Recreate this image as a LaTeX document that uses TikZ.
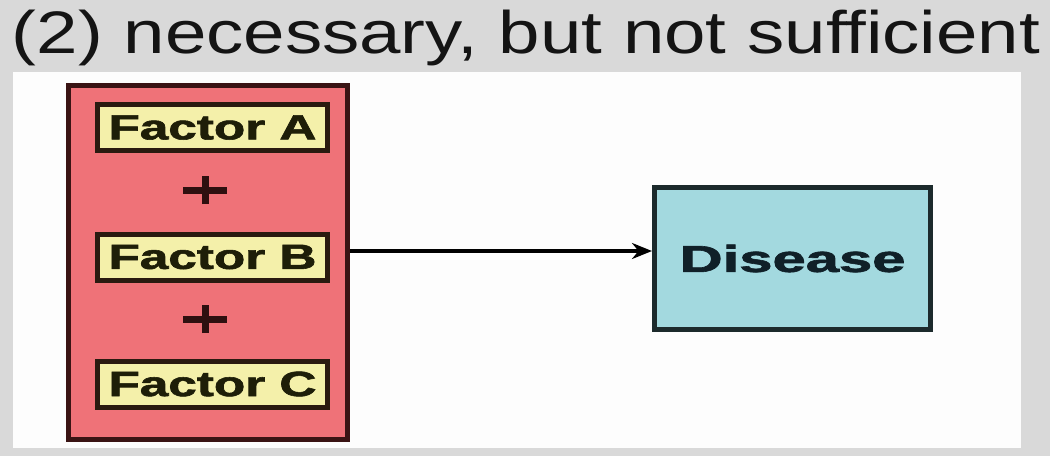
\documentclass[tikz,border=0pt]{standalone}
\usepackage{fontspec}
\usepackage{graphicx}
\setmainfont{Liberation Sans}
\newfontfamily\blackfont{Liberation Sans}[BoldFeatures={FakeBold=1.6}]
\usetikzlibrary{arrows.meta}
\definecolor{bggray}{HTML}{D9D9D9}
\definecolor{panelwhite}{HTML}{FDFDFD}
\definecolor{redfill}{HTML}{EF7278}
\definecolor{redborder}{HTML}{3A1414}
\definecolor{yellowfill}{HTML}{F4F0AA}
\definecolor{yellowborder}{HTML}{2A1A10}
\definecolor{cyanfill}{HTML}{A3D9DF}
\definecolor{cyanborder}{HTML}{1C2A2C}
\definecolor{factortext}{HTML}{1E1E08}
\definecolor{distext}{HTML}{102028}
\definecolor{titletext}{HTML}{141414}
\tikzset{
  groupbox/.style={draw=redborder, fill=redfill, line width=5pt, minimum width=279pt, minimum height=354pt, inner sep=0pt},
  factorbox/.style={draw=yellowborder, fill=yellowfill, line width=5pt, minimum width=230pt, minimum height=46pt, inner sep=0pt, text=factortext, font=\fontsize{35}{40}\blackfont\bfseries},
  diseasebox/.style={draw=cyanborder, fill=cyanfill, line width=5pt, minimum width=276pt, minimum height=142pt, inner sep=0pt, text=distext, font=\fontsize{37.5}{42}\blackfont\bfseries},
  plusline/.style={draw=redborder!80!black, line width=7pt},
  link/.style={draw=black, line width=4.5pt, -{Stealth[length=20pt,width=16pt]}},
  titlestyle/.style={text=titletext, font=\fontsize{60}{70}\selectfont, inner sep=0pt, anchor=base}
}
\begin{document}
\begin{tikzpicture}[x=1pt, y=-1pt]
  \useasboundingbox (0,0) rectangle (1050,456);
  \fill[bggray] (0,0) rectangle (1050,456);
  \fill[panelwhite] (13,72) rectangle (1021,448);
  \node[titlestyle] (title) at (526,53) {\resizebox{1028pt}{\height}{(2) necessary, but not sufficient}};
  \node[groupbox] (grp) at (208,262.5) {};
  \node[factorbox] (fa) at (212.5,127.5) {\resizebox{208pt}{\height}{Factor A}};
  \node[factorbox] (fb) at (212.5,257) {\resizebox{208pt}{\height}{Factor B}};
  \node[factorbox] (fc) at (212.5,384) {\resizebox{208pt}{\height}{Factor C}};
  \node[inner sep=0pt, minimum size=1pt] (p1) at (205,190) {};
  \node[inner sep=0pt, minimum size=1pt] (p2) at (205,319) {};
  \foreach \p in {p1,p2}{
    \draw[plusline] ([xshift=-22pt]\p.center) -- ([xshift=22pt]\p.center);
    \draw[plusline] ([yshift=-14pt]\p.center) -- ([yshift=14pt]\p.center);
  }
  \node[diseasebox] (dis) at (792.5,258.5) {\resizebox{226pt}{\height}{Disease}};
  \coordinate (a0) at (350,251);
  \draw[link] (a0) -- (dis.west |- a0);
\end{tikzpicture}
\end{document}
